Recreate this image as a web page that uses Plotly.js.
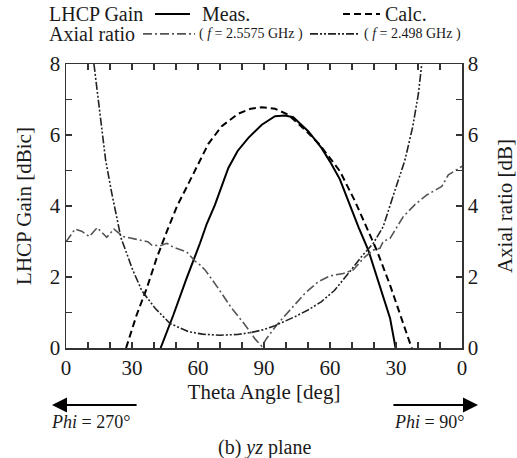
<!DOCTYPE html>
<html>
<head>
<meta charset="utf-8">
<script src="https://cdn.plot.ly/plotly-3.0.1.min.js"></script>
<style>
html,body{margin:0;padding:0;background:#fff;}
#chart{width:517px;height:458px;}
</style>
</head>
<body>
<div id="chart"></div>
<script>
// Theta axis runs 0..180: left half is Phi=270 (theta 0..90), right half Phi=90 (theta 90..0)
var xTickVals = [0, 30, 60, 90, 120, 150, 180];
var xTickText = ['0', '30', '60', '90', '60', '30', '0'];

// LHCP gain, measured [dBic]
var thetaMeas = [43, 48.8, 54.8, 58.6, 60.9, 64, 67.7, 73.8, 78, 82.9, 89, 95, 99.5, 103.3, 110.2, 116.2, 120, 124.5, 129, 133, 137.4, 142.7, 147.3, 149.8];
var gainMeas  = [0, 0.93, 1.96, 2.55, 2.95, 3.5, 4.03, 5.07, 5.55, 5.92, 6.29, 6.53, 6.55, 6.5, 6.1, 5.63, 5.25, 4.75, 4.03, 3.4, 2.76, 1.73, 0.84, 0];

// LHCP gain, calculated [dBic]
var thetaCalc = [27.3, 32.1, 36.7, 41.2, 45.8, 50.5, 55, 60, 64.7, 70.8, 78.3, 84, 89, 95, 101, 108.6, 114.7, 120, 124.5, 131.4, 136, 141.2, 147.3, 151.8, 156.4, 157.2];
var gainCalc  = [0, 0.93, 1.68, 2.53, 3.28, 4.0, 4.55, 5.15, 5.75, 6.25, 6.6, 6.74, 6.78, 6.74, 6.57, 6.15, 5.77, 5.35, 4.98, 4.13, 3.5, 2.76, 1.77, 0.93, 0.13, 0];

// Axial ratio at f = 2.5575 GHz [dB]
var thetaAR1 = [0, 2, 4.1, 7.1, 10.6, 14.2, 18.5, 21.8, 26, 32.1, 37.4, 38.9, 42.7, 45.8, 48.8, 54.8, 58.6, 60.9, 63.2, 69.2, 75.3, 81.4, 86, 89, 91.2, 95.8, 102.6, 108.6, 114.7, 120, 126, 130.6, 135.2, 139.7, 142.7, 144.2, 147.3, 153.3, 158.6, 164, 170.8, 173.8, 177.6, 180];
var ar1      = [2.99, 3.15, 3.35, 3.29, 3.14, 3.39, 3.12, 3.35, 3.14, 3.06, 2.99, 2.9, 2.88, 2.95, 2.84, 2.71, 2.45, 2.34, 2.2, 1.68, 1.12, 0.65, 0.25, 0.05, 0.27, 0.65, 1.12, 1.54, 1.87, 2.03, 2.1, 2.2, 2.53, 2.76, 2.81, 3.0, 3.09, 3.7, 4.04, 4.31, 4.55, 4.88, 5.02, 5.12];

// Axial ratio at f = 2.498 GHz [dB]
var thetaAR2 = [12.7, 14.4, 16.2, 18, 20.8, 23.8, 25, 28, 30, 34.4, 40.5, 47.3, 55.6, 62, 70, 78, 84.4, 90, 95, 104, 110, 116, 122, 129, 134, 139.7, 144.2, 149.1, 154.1, 157.6, 160.2, 161.7];
var ar2      = [8, 7.17, 6.23, 5.3, 4.36, 3.42, 3.1, 2.6, 2.25, 1.62, 1.12, 0.69, 0.46, 0.39, 0.36, 0.38, 0.44, 0.52, 0.63, 0.88, 1.07, 1.3, 1.62, 2.15, 2.55, 2.95, 3.42, 4.36, 5.3, 6.23, 7.17, 8];

var FONT = 'Liberation Serif, DejaVu Serif, serif';
var AX = '#333';
var TXT = '#1a1a1a';

var STY_MEAS = {color: '#000', width: 2};
var STY_CALC = {color: '#000', width: 2, dash: '7px,4px'};
var STY_AR1 = {color: '#555', width: 1.6, dash: '9px,3px,2px,3px'};
var STY_AR2 = {color: '#222', width: 1.6, dash: '8px,2px,2px,2px,2px,2px'};

var traces = [
  {x: thetaMeas, y: gainMeas, mode: 'lines', name: 'Meas.', line: STY_MEAS},
  {x: thetaCalc, y: gainCalc, mode: 'lines', name: 'Calc.', line: STY_CALC},
  {x: thetaAR1, y: ar1, mode: 'lines', name: 'AR f = 2.5575 GHz', yaxis: 'y2', line: STY_AR1},
  {x: thetaAR2, y: ar2, mode: 'lines', name: 'AR f = 2.498 GHz', yaxis: 'y2', line: STY_AR2}
];

var axisCommon = {
  showline: true, linecolor: AX, linewidth: 1.5,
  ticks: 'inside', ticklen: 6, tickwidth: 1.3, tickcolor: AX,
  showgrid: false, zeroline: false,
  tickfont: {family: FONT, size: 21, color: TXT}
};

// legend built from paper-space samples + labels (custom two-row legend)
function legendLine(x0, x1, y, sty) {
  return {type: 'line', xref: 'paper', yref: 'paper', x0: x0, x1: x1, y0: y, y1: y,
          line: Object.assign({}, sty)};
}
function label(text, x, y, size, anchor) {
  return {text: text, xref: 'paper', yref: 'paper', x: x, y: y, xanchor: anchor || 'left', yanchor: 'middle',
          showarrow: false, font: {family: FONT, size: size, color: TXT}};
}
var ROW1 = 1.176, ROW2 = 1.106;

var layout = {
  width: 517, height: 458,
  margin: {l: 66, r: 55, t: 64, b: 110},
  paper_bgcolor: '#fff', plot_bgcolor: '#fff',
  font: {family: FONT, color: TXT},
  showlegend: false,
  xaxis: Object.assign({}, axisCommon, {
    range: [0, 180], tickvals: xTickVals, ticktext: xTickText, mirror: 'ticks',
    minor: {dtick: 10, ticks: 'inside', ticklen: 6, tickwidth: 1.3, tickcolor: AX, showgrid: false},
    title: {text: 'Theta Angle [deg]', font: {family: FONT, size: 21, color: TXT}, standoff: 4}
  }),
  yaxis: Object.assign({}, axisCommon, {
    range: [0, 8], dtick: 2, mirror: 'ticks',
    minor: {dtick: 1, ticks: 'inside', ticklen: 6, tickwidth: 1.3, tickcolor: AX, showgrid: false},
    title: {text: 'LHCP Gain [dBic]', font: {family: FONT, size: 21, color: TXT}, standoff: 12}
  }),
  yaxis2: Object.assign({}, axisCommon, {
    range: [0, 8], dtick: 2, overlaying: 'y', side: 'right',
    minor: {dtick: 1, ticks: 'inside', ticklen: 6, tickwidth: 1.3, tickcolor: AX, showgrid: false},
    title: {text: 'Axial ratio [dB]', font: {family: FONT, size: 21, color: TXT}, standoff: 24}
  }),
  shapes: [
    legendLine(0.2247, 0.3131, ROW1, STY_MEAS),
    legendLine(0.6995, 0.7929, ROW1, STY_CALC),
    legendLine(0.1944, 0.3258, ROW2, STY_AR1),
    legendLine(0.6162, 0.7424, ROW2, STY_AR2)
  ],
  annotations: [
    label('LHCP Gain', -0.048, ROW1, 20),
    label('Axial ratio', -0.048, ROW2, 20),
    label('Meas.', 0.3384, ROW1, 20),
    label('Calc.', 0.8005, ROW1, 20),
    label('( <i>f</i> = 2.5575 GHz )', 0.3308, ROW2, 14),
    label('( <i>f</i> = 2.498 GHz )', 0.7475, ROW2, 14),
    {text: '', xref: 'paper', yref: 'paper', axref: 'paper', ayref: 'paper',
     x: -0.0354, y: -0.2007, ax: 0.182, ay: -0.2007,
     showarrow: true, arrowhead: 2, arrowsize: 1.5, arrowwidth: 2, arrowcolor: '#000', standoff: 0, startstandoff: 0},
    {text: '', xref: 'paper', yref: 'paper', axref: 'paper', ayref: 'paper',
     x: 1.0404, y: -0.2007, ax: 0.823, ay: -0.2007,
     showarrow: true, arrowhead: 2, arrowsize: 1.5, arrowwidth: 2, arrowcolor: '#000', standoff: 0, startstandoff: 0},
    label('<i>Phi</i> = 270°', -0.0429, -0.2606, 18),
    label('<i>Phi</i> = 90°', 0.823, -0.2606, 18),
    label('(b) <i>yz</i> plane', 0.5025, -0.3486, 20, 'center')
  ]
};

Plotly.newPlot('chart', traces, layout, {displayModeBar: false, staticPlot: true});
</script>
</body>
</html>
